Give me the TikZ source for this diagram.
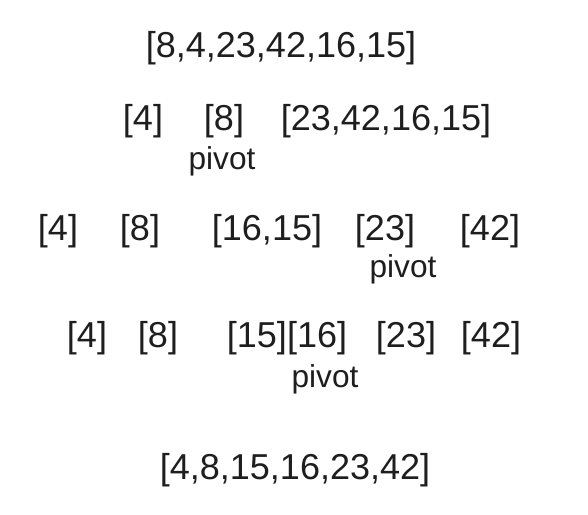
\documentclass[tikz,border=0pt]{standalone}
\usepackage{fontspec}
\setmainfont{Liberation Sans}
\usepackage{tikz}
\usetikzlibrary{positioning}
\definecolor{inkblack}{HTML}{1E1E1E}
\tikzstyle{listnode}=[inner sep=0pt,text=inkblack,
  font=\fontsize{20.5}{22}\selectfont]
\tikzstyle{pivnode}=[inner sep=0pt,text=inkblack,
  font=\fontsize{18}{20}\selectfont]

\begin{document}
\begin{tikzpicture}[x=0.02cm,y=-0.02cm]
  \useasboundingbox (0,0) rectangle (588,514);
  % start
  \node[listnode] (all) at (281,48) {[8,4,23,42,16,15]};
  % first split
  \node[listnode] (a4) at (143,121) {[4]};
  \node[listnode] (a8) at (224,121) {[8]};
  \node[listnode] (arest) at (386,121) {[23,42,16,15]};
  \node[pivnode] (apiv) at (222,161) {pivot};
  % second split
  \node[listnode] (b4) at (58,231) {[4]};
  \node[listnode] (b8) at (140,231) {[8]};
  \node[listnode] (bleft) at (267,231) {[16,15]};
  \node[listnode] (b23) at (385,231) {[23]};
  \node[listnode] (b42) at (490,231) {[42]};
  \node[pivnode] (bpiv) at (403,269) {pivot};
  % third split
  \node[listnode] (c4) at (87,338) {[4]};
  \node[listnode] (c8) at (158,338) {[8]};
  \node[listnode] (cpair) at (287,338) {[15][16]};
  \node[listnode] (c23) at (406,338) {[23]};
  \node[listnode] (c42) at (491,338) {[42]};
  \node[pivnode] (cpiv) at (325,379) {pivot};
  % result
  \node[listnode] (sorted) at (295,470) {[4,8,15,16,23,42]};
\end{tikzpicture}
\end{document}
